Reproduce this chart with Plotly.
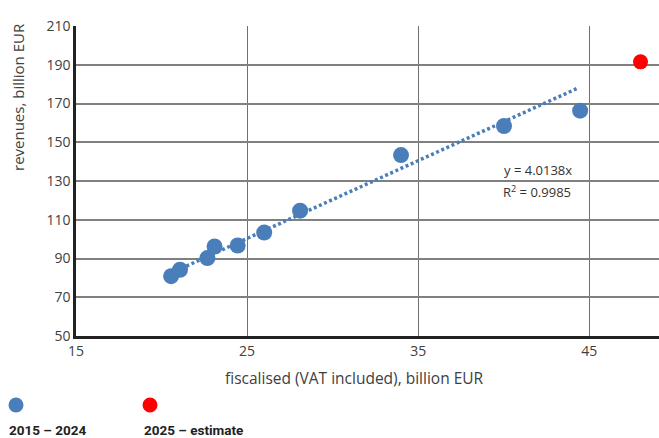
import plotly.graph_objects as go
import numpy as np

# data
fiscalised = [20.56, 21.08, 22.68, 23.1, 24.45, 26.0, 28.1, 34.0, 40.02, 44.47]
revenues = [80.9, 84.2, 90.2, 96.2, 96.7, 103.4, 114.7, 143.4, 158.4, 166.3]
est_x = [48.0]
est_y = [191.5]
slope = 4.0138
r2 = 0.9985
series_names = ["2015 – 2024", "2025 – estimate"]
x_ticks = [15, 25, 35, 45]
y_ticks = [50, 70, 90, 110, 130, 150, 170, 190, 210]

blue = "#4a7ebb"
red = "#ff0000"
font_fam = "Open Sans"

tx = np.array([min(fiscalised), max(fiscalised) - 0.15])
ty = slope * tx

fig = go.Figure()
fig.add_trace(go.Scatter(x=tx, y=ty, mode="lines",
                         line=dict(color=blue, width=3.5, dash="3px,2.6px"),
                         showlegend=False, hoverinfo="skip"))
fig.add_trace(go.Scatter(x=fiscalised, y=revenues, mode="markers", name=series_names[0],
                         marker=dict(color=blue, size=16), showlegend=False))
fig.add_trace(go.Scatter(x=est_x, y=est_y, mode="markers", name=series_names[1],
                         marker=dict(color=red, size=15), showlegend=False))

W, H = 659, 438
ml, mr, mt, mb = 76, 0, 26, 102
pw = W - ml - mr
ph = H - mt - mb

def px_x(p):
    return (p - ml) / pw

def px_y(p):
    return (H - mb - p) / ph

def ann(text, x, y, size, fam=font_fam, color="#404040", xanchor="center", **kw):
    return dict(text=text, x=px_x(x), y=px_y(y), xref="paper", yref="paper",
                xanchor=xanchor, yanchor="middle", showarrow=False,
                font=dict(family=fam, size=size, color=color), **kw)

annotations = [
    ann(f"y = {slope}x", 538, 170, 13, color="#333"),
    ann(f"R<sup>2</sup> = {r2}", 537, 191, 13, color="#333"),
    ann("revenues, billion EUR", 18, 97, 15, textangle=-90),
    ann("fiscalised (VAT included), billion EUR", 354, 378, 15.5),
    ann("<b>" + series_names[0] + "</b>", 7, 430, 13.5, fam="Roboto", color="#222", xanchor="left"),
    ann("<b>" + series_names[1] + "</b>", 142, 430, 13.5, fam="Roboto", color="#222", xanchor="left"),
]

shapes = []
for cx, col in [(16, blue), (150, red)]:
    shapes.append(dict(type="circle", xref="paper", yref="paper",
                       x0=px_x(cx - 7.5), x1=px_x(cx + 7.5), y0=px_y(405 + 7.5), y1=px_y(405 - 7.5),
                       fillcolor=col, line=dict(width=0)))

fig.update_layout(
    width=W, height=H,
    margin=dict(l=ml, r=mr, t=mt, b=mb),
    paper_bgcolor="white", plot_bgcolor="white",
    annotations=annotations, shapes=shapes,
    showlegend=False,
)
fig.update_xaxes(range=[15, 49.08], tickvals=x_ticks, showgrid=True, gridcolor="#707070", gridwidth=1.3,
                 showline=True, linecolor="#222", linewidth=2.5, zeroline=False,
                 ticks="", tickfont=dict(family=font_fam, size=14, color="#404040"))
fig.update_yaxes(range=[50, 210], tickvals=y_ticks, showgrid=True, gridcolor="#808080", gridwidth=1.5,
                 showline=True, linecolor="#222", linewidth=2.5, zeroline=False,
                 ticks="", tickfont=dict(family=font_fam, size=14, color="#404040"))

fig.write_html("out.html", config={"displayModeBar": False},
               post_script="document.body.style.margin='0';document.body.style.overflow='hidden';")
